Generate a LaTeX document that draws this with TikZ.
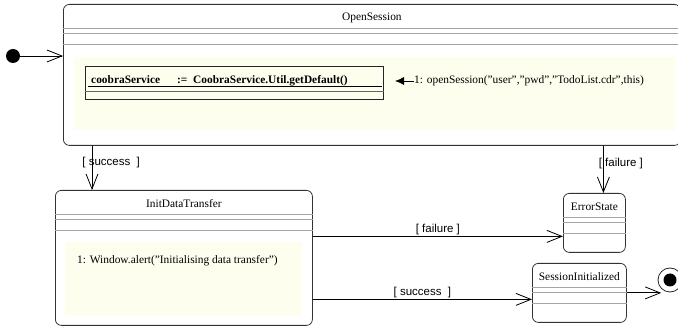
\documentclass[tikz,border=0pt]{standalone}
\usepackage{fontspec}
\setmainfont{Liberation Serif}
\setsansfont{Liberation Sans}
\usetikzlibrary{positioning,arrows.meta}
\definecolor{actfill}{RGB}{254,254,238}
\definecolor{sepgray}{RGB}{165,165,165}

\begin{document}
\begin{tikzpicture}[x=1pt,y=-1pt,>={Straight Barb[length=15pt,width=12pt]},
  statebox/.style={draw=black!80,rounded corners=6pt,line width=.8pt,
    anchor=north west,inner sep=0pt},
  txt/.style={font=\fontsize{11.4}{13}\selectfont,inner sep=0pt},
  guard/.style={font=\sffamily\fontsize{11.5}{13}\selectfont,inner sep=1pt},
  trans/.style={->,line width=.8pt},
  sep/.style={draw=sepgray,line width=.7pt}]
  \useasboundingbox (0,0) rectangle (678,328);

  % activity areas
  \fill[actfill] (74,57) rectangle (676,130);
  \fill[actfill] (65,242) rectangle (302,316);

  % states
  \node[statebox,minimum width=617pt,minimum height=141pt] (open) at (63,4) {};
  \node[statebox,minimum width=257pt,minimum height=135pt] (init) at (55,190) {};
  \node[statebox,minimum width=62pt,minimum height=59pt] (err) at (563,193) {};
  \node[statebox,minimum width=94pt,minimum height=59pt] (done) at (532,263) {};
  \foreach \s/\t in {open/OpenSession,init/InitDataTransfer,
                     err/ErrorState,done/SessionInitialized}
    \node[txt] at ([yshift=-13.5pt]\s.north) {\t};
  \foreach \s in {open,init,err,done}
    \foreach \d in {24,29,40}
      \draw[sep] ([yshift=-\d pt]\s.north west) -- ([yshift=-\d pt]\s.north east);

  % object inside OpenSession
  \node[draw=black!85,line width=.8pt,anchor=north west,minimum width=298pt,
    minimum height=33pt,inner sep=0pt] (svc) at (85,66) {};
  \node[txt,font=\fontsize{11.4}{13}\selectfont\bfseries,anchor=base west]
    (svcname) at (91,84) {coobraService};
  \node[txt,font=\fontsize{11.4}{13}\selectfont\bfseries,anchor=base west]
    (svcval) at (177,84) {:=\ \ CoobraService.Util.getDefault()};
  \draw[line width=.8pt] ([xshift=3pt,yshift=-20pt]svc.north west)
    -- ([xshift=-2pt,yshift=-20pt]svc.north east);
  \draw[sep,draw=black!60] ([yshift=-25pt]svc.north west) -- ([yshift=-25pt]svc.north east);
  \node[txt,anchor=west] (call) at (414,81)
    {1: openSession("user","pwd","TodoList.cdr",this)};
  \coordinate (svctip) at (395,81);
  \draw[-{Latex[length=9pt,width=8pt]},line width=.8pt] (call.west) -- (svctip);

  % entry action of InitDataTransfer
  \node[txt,anchor=west] (alert) at (77,261)
    {1: Window.alert("Initialising data transfer")};

  % pseudo states
  \node[circle,fill=black,minimum size=14pt,inner sep=0pt] (start) at (13,56) {};
  \node[circle,draw=black!85,line width=.8pt,minimum size=24pt,inner sep=0pt]
    (fin) at (670,280) {};
  \node[circle,fill=black,minimum size=13pt,inner sep=0pt] at (fin) {};

  % transitions
  \draw[trans] (start) -- (open.west |- start);
  \coordinate (s1) at ([xshift=37pt]init.north west);
  \draw[trans] (s1 |- open.south)
    -- node[guard,pos=.38,anchor=west,xshift=-11pt] {[ success\ \ ]} (s1);
  \coordinate (f1) at ([xshift=9pt]err.north);
  \draw[trans] (f1 |- open.south)
    -- node[guard,pos=.38,anchor=west,xshift=-6pt] {[ failure\ ]} (f1);
  \coordinate (f2) at ([yshift=-13.5pt]err.west);
  \draw[trans] (init.east |- f2) -- node[guard,above] {[ failure\ ]} (f2);
  \coordinate (s2) at ([yshift=-6.5pt]done.west);
  \draw[trans] (init.east |- s2) -- node[guard,above] {[ success\ \ ]} (s2);
  \draw[trans] (done.east) -- (fin.south west |- done.east);
\end{tikzpicture}
\end{document}
